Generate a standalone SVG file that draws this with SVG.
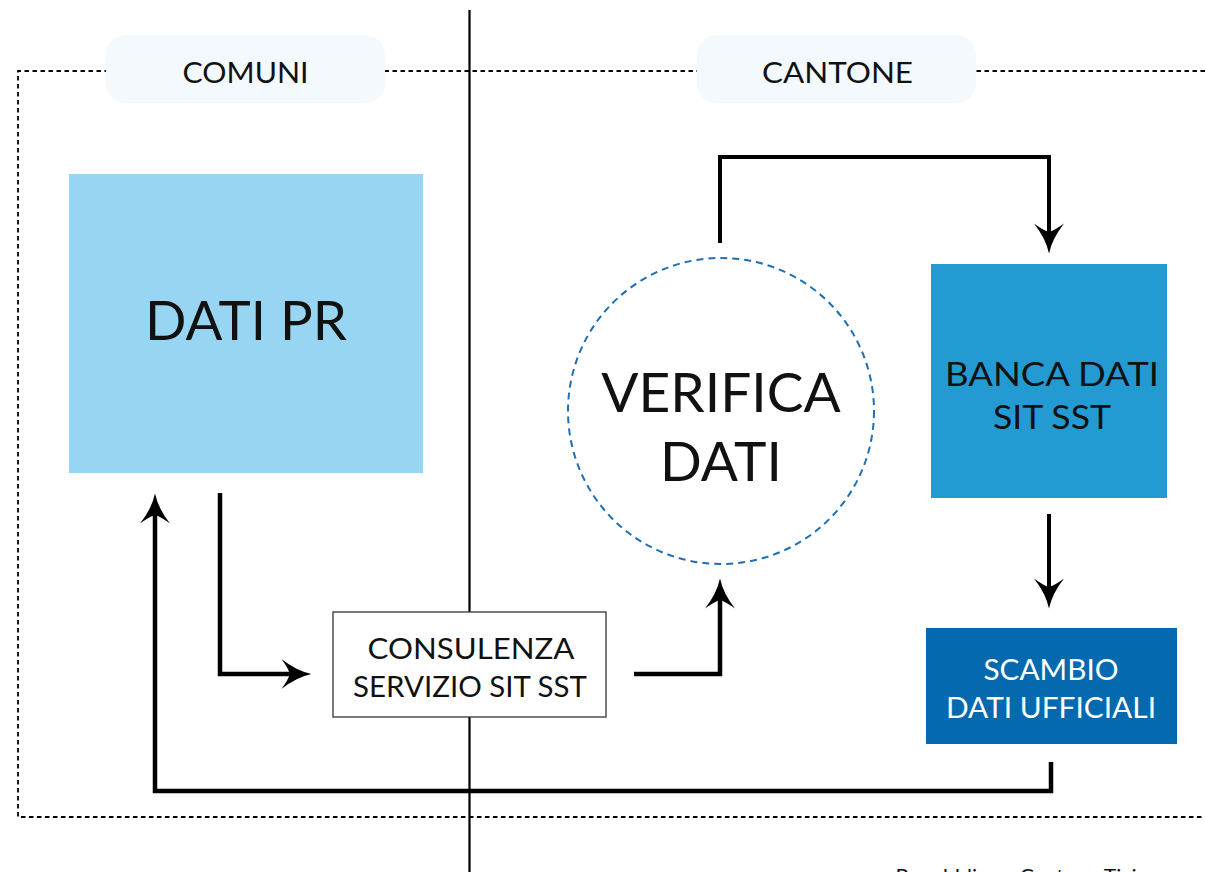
<svg xmlns="http://www.w3.org/2000/svg" width="1205" height="872" viewBox="0 0 1205 872">
<defs>
<style>
text{font-family:Lato,"Open Sans","DejaVu Sans",sans-serif;text-anchor:middle;fill:#111}
.conn{fill:none;stroke:#000;stroke-width:4.5;stroke-linejoin:miter}
.pill{fill:#f4f9fd}
</style>
<marker id="ah" markerUnits="userSpaceOnUse" markerWidth="30" markerHeight="30" viewBox="0 0 28 28" refX="8" refY="14" orient="auto" overflow="visible">
<path d="M28,14 Q14,11 0,0 Q6,8 8,14 Q6,20 0,28 Q14,17 28,14 Z" fill="#000"/>
</marker>
</defs>
<rect width="1205" height="872" fill="#fff"/>
<g id="frame">
<path d="M1205,71 H18 V817 H1205" fill="none" stroke="#000" stroke-width="1.8" stroke-dasharray="4.5,3.5"/>
<line x1="469.5" y1="10" x2="469.5" y2="872" stroke="#000" stroke-width="2.2"/>
</g>
<g id="comuni">
<rect class="pill" x="106" y="35" width="279" height="68" rx="20"/>
<text x="245.5" y="83" font-size="29" textLength="126" lengthAdjust="spacingAndGlyphs">COMUNI</text>
</g>
<g id="cantone">
<rect class="pill" x="697" y="35" width="279" height="68" rx="20"/>
<text x="837.5" y="83" font-size="29" textLength="151" lengthAdjust="spacingAndGlyphs">CANTONE</text>
</g>
<g id="connectors">
<path class="conn" d="M220,493 V674 H290" marker-end="url(#ah)"/>
<path class="conn" d="M634,674 H720 V600" marker-end="url(#ah)"/>
<path class="conn" d="M720,243 V157 H1049 V232" marker-end="url(#ah)" style="stroke-width:4"/>
<path class="conn" d="M1049,514 V587" marker-end="url(#ah)" style="stroke-width:4"/>
<path class="conn" d="M1051,762 V791 H155 V515" marker-end="url(#ah)"/>
</g>
<g id="dati-pr">
<rect x="69" y="174" width="354" height="299" fill="#97d5f3"/>
<text x="246" y="340" font-size="54" textLength="202" lengthAdjust="spacingAndGlyphs">DATI PR</text>
</g>
<g id="verifica">
<circle cx="721" cy="411" r="153" fill="#fff" stroke="#1f6fb4" stroke-width="2" stroke-dasharray="7,5"/>
<text x="721" y="412" font-size="55">VERIFICA</text>
<text x="721" y="481" font-size="55">DATI</text>
</g>
<g id="banca">
<rect x="931" y="264" width="236" height="234" fill="#239bd2"/>
<text x="1052" y="386" font-size="33" textLength="214" lengthAdjust="spacingAndGlyphs">BANCA DATI</text>
<text x="1052" y="429" font-size="33" textLength="118" lengthAdjust="spacingAndGlyphs">SIT SST</text>
</g>
<g id="scambio">
<rect x="926" y="628" width="251" height="116" fill="#0469ae"/>
<text x="1051" y="680" font-size="28.5" textLength="135" lengthAdjust="spacingAndGlyphs" style="fill:#fff">SCAMBIO</text>
<text x="1051" y="718" font-size="28.5" textLength="210" lengthAdjust="spacingAndGlyphs" style="fill:#fff">DATI UFFICIALI</text>
</g>
<g id="consulenza">
<rect x="333" y="612" width="273" height="105" fill="#fff" stroke="#333" stroke-width="1.3"/>
<text x="471" y="659" font-size="29" textLength="207" lengthAdjust="spacingAndGlyphs">CONSULENZA</text>
<text x="470" y="697" font-size="29" textLength="234" lengthAdjust="spacingAndGlyphs">SERVIZIO SIT SST</text>
</g>
<g id="credit">
<text x="1028" y="883" font-size="20" textLength="265" lengthAdjust="spacingAndGlyphs">Repubblica e Cantone Ticino</text>
</g>
</svg>
